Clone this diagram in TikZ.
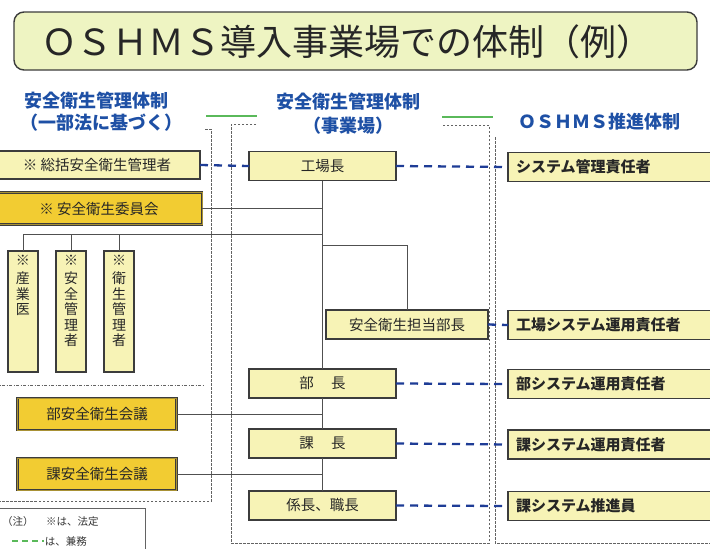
\documentclass[tikz,border=0pt]{standalone}
\usepackage{fontspec}
\newfontfamily\jp{Noto Sans CJK JP}
\definecolor{lfill}{RGB}{247,243,182}
\definecolor{gfill}{RGB}{242,204,50}
\definecolor{tfill}{RGB}{238,244,194}
\definecolor{edge}{RGB}{60,60,60}
\definecolor{hblue}{RGB}{30,80,165}
\definecolor{dblue}{RGB}{30,60,150}
\definecolor{lgreen}{RGB}{90,185,90}
\begin{document}
\begin{tikzpicture}[x=1pt,y=-1pt,
  every node/.style={inner sep=0pt, outer sep=0pt},
  lbox/.style={draw=edge, line width=1.1pt, fill=lfill, font=\jp\fontsize{14.5}{16}\selectfont, text=black!85},
  gbox/.style={draw=edge, line width=0.8pt, fill=gfill, double=gfill!60!edge, double distance=0.9pt, font=\jp\fontsize{14.5}{16}\selectfont, text=black!85},
  rbox/.style={lbox, minimum width=214pt, minimum height=29pt, align=left, text width=198pt, inner xsep=8pt, font=\jp\bfseries\fontsize{15}{17}\selectfont},
  cbox/.style={lbox, minimum width=147pt, minimum height=29pt},
  vbox/.style={lbox, minimum width=30pt, minimum height=121pt},
  vtext/.style={anchor=north, align=center, font=\jp\fontsize{14}{15.5}\selectfont, text=black!85},
  head/.style={text=hblue, font=\jp\bfseries\fontsize{18}{20}\selectfont},
  conn/.style={draw=edge!90, line width=1pt},
  kenmu/.style={draw=dblue, line width=2.3pt, dash pattern=on 8pt off 6pt},
  bound/.style={draw=edge!80, line width=0.8pt, dash pattern=on 2.5pt off 1.5pt},
  grn/.style={draw=lgreen, line width=2pt}
]
\useasboundingbox (0,0) rectangle (710,549);
\fill[white] (0,0) rectangle (710,549);

% title
\node[draw=edge, line width=1.4pt, fill=tfill, rounded corners=10pt, minimum width=683pt, minimum height=58pt] (titlebox) at (355.5,41) {};
\node[font=\jp\fontsize{36}{38}\selectfont, text=black!85] (title) at (347,42) {ＯＳＨＭＳ導入事業場での体制（例）};

% headers
\node[head, anchor=west] (h1a) at (24,101) {安全衛生管理体制};
\node[head, anchor=west] (h1b) at (20,123) {（一部法に基づく）};
\node[head] (h2a) at (348,102) {安全衛生管理体制};
\node[head] (h2b) at (348,126) {（事業場）};
\node[head] (h3) at (599,122) {ＯＳＨＭＳ推進体制};
\coordinate (g1a) at (206,116); \coordinate (g1b) at (257,116);
\coordinate (g2a) at (442,117); \coordinate (g2b) at (493,117);
\draw[grn] (g1a) -- (g1b);
\draw[grn] (g2a) -- (g2b);

% region boundaries
\coordinate (L1) at (205,129); \coordinate (L2) at (211,129); \coordinate (L3) at (211,501); \coordinate (L4) at (-5,501);
\draw[bound] (L1) -- (L2) -- (L3) -- (L4);
\coordinate (C1) at (256,124); \coordinate (C2) at (231,124); \coordinate (C3) at (231,543); \coordinate (C4) at (489,543); \coordinate (C5) at (489,125); \coordinate (C6) at (442,125);
\draw[bound] (C1) -- (C2) -- (C3) -- (C4) -- (C5) -- (C6);
\coordinate (R1) at (495,137); \coordinate (R2) at (495,543); \coordinate (R3) at (715,543);
\draw[bound] (R1) -- (R2) -- (R3);
\coordinate (D1) at (-5,385); \coordinate (D2) at (205,385);
\draw[draw=edge!80, line width=0.8pt, dash pattern=on 3pt off 1.5pt on 1pt off 1.5pt] (D1) -- (D2);

% left column
\node[lbox, minimum width=206pt, minimum height=28pt] (sokatsu) at (97,165) {※ 総括安全衛生管理者};
\node[gbox, minimum width=206pt, minimum height=32pt] (iinkai) at (99,208.5) {※ 安全衛生委員会};
\node[vbox] (sangyo) at (23,311.5) {};
\node[vbox] (anzen) at (71,311.5) {};
\node[vbox] (eisei) at (119,311.5) {};
\node[vtext] (t1) at (23,255) {※\\[3pt]産\\業\\医};
\node[vtext] (t2) at (71,255) {※\\[3pt]安\\全\\管\\理\\者};
\node[vtext] (t3) at (119,255) {※\\[3pt]衛\\生\\管\\理\\者};
\node[gbox, minimum width=159pt, minimum height=32pt] (bukaigi) at (97,414) {部安全衛生会議};
\node[gbox, minimum width=159pt, minimum height=32pt] (kakaigi) at (97,474) {課安全衛生会議};

% center column
\node[cbox] (kojo) at (322.5,166) {工場長};
\node[lbox, minimum width=162pt, minimum height=29pt] (tanto) at (407,324.5) {安全衛生担当部長};
\node[cbox] (bucho) at (322.5,383.5) {部\hspace{1.2em}長};
\node[cbox] (kacho) at (322.5,443.5) {課\hspace{1.2em}長};
\node[cbox] (kakari) at (322.5,505.5) {係長、職長};

% right column
\node[rbox] (sys) at (615,167) {システム管理責任者};
\node[rbox] (kojosys) at (615,325) {工場システム運用責任者};
\node[rbox] (busys) at (615,384) {部システム運用責任者};
\node[rbox] (kasys) at (615,444.5) {課システム運用責任者};
\node[rbox] (kasuishin) at (615,506) {課システム推進員};

% connectors
\coordinate (y234) at (0,234);
\coordinate (y245) at (0,245);
\draw[conn] (kojo.south) -- (bucho.north);
\draw[conn] (bucho.south) -- (kacho.north);
\draw[conn] (kacho.south) -- (kakari.north);
\draw[conn] (iinkai.east) -- (kojo.south |- iinkai.east);
\draw[conn] (sangyo.north |- y234) -- (kojo.south |- y234);
\draw[conn] (sangyo.north) -- (sangyo.north |- y234);
\draw[conn] (anzen.north) -- (anzen.north |- y234);
\draw[conn] (eisei.north) -- (eisei.north |- y234);
\draw[conn] (kojo.south |- y245) -| (tanto.north);
\draw[conn] (bukaigi.east) -- (kojo.south |- bukaigi.east);
\draw[conn] (kakaigi.east) -- (kojo.south |- kakaigi.east);

% kenmu (dashed)
\draw[kenmu] (sokatsu.east) -- (kojo.west);
\draw[kenmu] (kojo.east) -- (sys.west);
\draw[kenmu] (tanto.east) -- (kojosys.west);
\draw[kenmu] (bucho.east) -- (busys.west);
\draw[kenmu] (kacho.east) -- (kasys.west);
\draw[kenmu] (kakari.east) -- (kasuishin.west);

% legend
\coordinate (lg1) at (-5,508); \coordinate (lg2) at (145,508); \coordinate (lg3) at (145,560);
\draw[draw=edge!80, line width=0.8pt] (lg1) -- (lg2) -- (lg3);
\node[anchor=west, font=\jp\fontsize{10.5}{12}\selectfont, text=black!80] (note1) at (2,522) {（注）\hspace{1.2em}※は、法定};
\coordinate (lgd1) at (12,541); \coordinate (lgd2) at (44,541);
\draw[draw=lgreen, line width=1.6pt, dash pattern=on 6pt off 4pt] (lgd1) -- (lgd2);
\node[anchor=west, font=\jp\fontsize{10.5}{12}\selectfont, text=black!80] (note2) at (45,541) {は、兼務};
\end{tikzpicture}
\end{document}
